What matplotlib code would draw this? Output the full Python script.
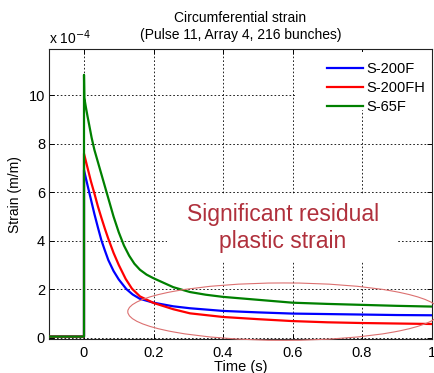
import matplotlib
matplotlib.use('Agg')
import matplotlib.pyplot as plt
from matplotlib.patches import Ellipse, Rectangle

plt.rcParams['font.family'] = ['Liberation Sans', 'DejaVu Sans']

# ---- data (strain in units of 1e-4 m/m) ----
t_s200f = [-0.1, 0.0, 0.0, 0.01, 0.02, 0.03, 0.04, 0.05, 0.06, 0.07, 0.085, 0.1,
           0.122, 0.14, 0.161, 0.2, 0.257, 0.305, 0.4, 0.5, 0.6, 0.7, 0.8, 0.9, 1.0]
v_s200f = [0.04, 0.04, 6.92, 6.3, 5.7, 5.1, 4.55, 4.02, 3.6, 3.2, 2.75, 2.4,
           2.0, 1.78, 1.6, 1.44, 1.29, 1.21, 1.1, 1.04, 0.99, 0.97, 0.95, 0.93, 0.92]

t_s200fh = [-0.1, 0.0, 0.0, 0.01, 0.02, 0.03, 0.04, 0.05, 0.06, 0.07, 0.085, 0.1,
            0.12, 0.138, 0.161, 0.2, 0.257, 0.305, 0.4, 0.5, 0.6, 0.7, 0.8, 0.9, 1.0]
v_s200fh = [0.04, 0.04, 7.6, 7.02, 6.45, 5.95, 5.42, 4.95, 4.5, 4.08, 3.5, 3.0,
            2.42, 2.02, 1.7, 1.43, 1.17, 1.0, 0.85, 0.76, 0.68, 0.63, 0.6, 0.58, 0.56]

t_s65f = [-0.1, 0.0, 0.0, 0.001, 0.005, 0.01, 0.015, 0.022, 0.03, 0.04, 0.05, 0.064,
          0.085, 0.1, 0.115, 0.13, 0.145, 0.161, 0.18, 0.2, 0.257, 0.305, 0.35, 0.4,
          0.5, 0.6, 0.7, 0.8, 0.9, 1.0]
v_s65f = [0.04, 0.04, 10.85, 9.9, 9.55, 9.15, 8.78, 8.25, 7.75, 7.25, 6.75, 6.05,
          5.0, 4.35, 3.8, 3.38, 3.05, 2.8, 2.6, 2.45, 2.08, 1.88, 1.77, 1.68,
          1.56, 1.44, 1.39, 1.35, 1.31, 1.28]

series_names = ['S-200F', 'S-200FH', 'S-65F']
series_colors = ['#0000ff', '#ff0000', '#008000']

x_ticks = [0, 0.2, 0.4, 0.6, 0.8, 1.0]
x_tick_labels = ['0', '0.2', '0.4', '0.6', '0.8', '1']
y_ticks = [0, 2, 4, 6, 8, 10]
y_tick_labels = ['0', '2', '4', '6', '8', '10']

# ---- figure ----
W, H = 434, 373
fig = plt.figure(figsize=(W / 100, H / 100), dpi=100)
ax_l, ax_r, ax_t, ax_b = 49.25, 431.5, 49, 339
ax = fig.add_axes([ax_l / W, 1 - ax_b / H, (ax_r - ax_l) / W, (ax_b - ax_t) / H])

for tt, vv, name, col in zip([t_s200f, t_s200fh, t_s65f], [v_s200f, v_s200fh, v_s65f],
                             series_names, series_colors):
    ax.plot(tt, vv, color=col, lw=1.6, label=name, zorder=3)

ax.set_xlim(-0.1, 1.0)
ax.set_ylim(-0.06, 11.92)
ax.set_xticks(x_ticks)
ax.set_xticklabels(x_tick_labels)
ax.set_yticks(y_ticks)
ax.set_yticklabels(y_tick_labels)
ax.tick_params(direction='in', top=True, right=True, length=3.5, width=0.7,
               labelsize=10.5, colors='black')
ax.tick_params(axis='y', pad=3)
ax.tick_params(axis='x', pad=5)
ax.set_axisbelow(True)
ax.grid(True, color='black', linestyle=(0, (2, 2.5)), linewidth=0.6)
for sp in ax.spines.values():
    sp.set_linewidth(0.8)
    sp.set_color('#222222')

# white boxes behind legend and annotation (hide grid)
ax.add_patch(Rectangle((0.614, 9.38), 0.39, 2.4, facecolor='white', edgecolor='none', zorder=1))
ax.add_patch(Rectangle((0.239, 3.13), 0.663, 2.8, facecolor='white', edgecolor='none', zorder=1))

ax.text(0.573, 4.52, 'Significant residual\nplastic strain', color='#b0303c',
        fontsize=16.5, ha='center', va='center', linespacing=1.2, zorder=4)

ax.add_patch(Ellipse((0.575, 1.07), 0.898, 2.37, facecolor='none', edgecolor='#dc7070',
                     lw=0.8, zorder=4, clip_on=False))

leg = ax.legend(loc='upper right', bbox_to_anchor=(1.0, 0.975), frameon=False,
                fontsize=10.5, handlelength=2.5, handletextpad=0.25, labelspacing=0.35,
                borderaxespad=0.0)
leg.set_zorder(5)

fig.text(240.5 / W, 1 - 17.5 / H, 'Circumferential strain', ha='center', va='center', fontsize=10)
fig.text(240.5 / W, 1 - 35 / H, '(Pulse 11, Array 4, 216 bunches)', ha='center', va='center', fontsize=10)
fig.text(49 / W, 1 - 38 / H, r'x 10$^{-4}$', ha='left', va='center', fontsize=10)
fig.text(15 / W, 1 - 195 / H, 'Strain (m/m)', rotation=90, ha='center', va='center', fontsize=10)
fig.text(240.5 / W, 1 - 367 / H, 'Time (s)', ha='center', va='center', fontsize=10.5)

fig.savefig('out.png', dpi=100)
